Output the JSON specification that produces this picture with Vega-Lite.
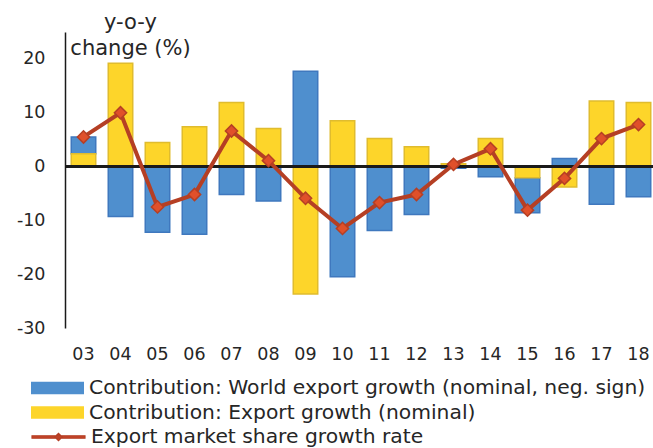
{
  "$schema": "https://vega.github.io/schema/vega-lite/v6.json",
  "width": 592,
  "height": 296,
  "autosize": "none",
  "padding": {"left": 65, "top": 32, "right": 0, "bottom": 120},
  "config": {
    "view": {"stroke": null},
    "font": "DejaVu Sans",
    "locale": {"number": {"decimal": ".", "thousands": ",", "grouping": [3], "currency": ["$", ""], "minus": "-"}},
    "axis": {"labelFont": "DejaVu Sans", "labelColor": "#262626", "titleFont": "DejaVu Sans"},
    "legend": {"labelFont": "DejaVu Sans"}
  },
  "data": {
    "values": [
      {"year": "03", "world": 3.1, "export": 2.4, "share": 5.5},
      {"year": "04", "world": -9.3, "export": 19.2, "share": 10.0},
      {"year": "05", "world": -12.2, "export": 4.45, "share": -7.5},
      {"year": "06", "world": -12.6, "export": 7.4, "share": -5.2},
      {"year": "07", "world": -5.2, "export": 11.9, "share": 6.6},
      {"year": "08", "world": -6.4, "export": 7.05, "share": 1.1},
      {"year": "09", "world": 17.7, "export": -23.7, "share": -5.9},
      {"year": "10", "world": -20.5, "export": 8.5, "share": -11.5},
      {"year": "11", "world": -11.9, "export": 5.2, "share": -6.7},
      {"year": "12", "world": -8.9, "export": 3.7, "share": -5.2},
      {"year": "13", "world": -0.3, "export": 0.5, "share": 0.4},
      {"year": "14", "world": -1.9, "export": 5.2, "share": 3.3},
      {"year": "15", "world": -6.5, "export": -2.1, "share": -8.1},
      {"year": "16", "world": 1.5, "export": -3.8, "share": -2.2},
      {"year": "17", "world": -7.0, "export": 12.2, "share": 5.2},
      {"year": "18", "world": -5.6, "export": 11.9, "share": 7.8}
    ]
  },
  "resolve": {"scale": {"color": "independent"}},
  "layer": [
    {
      "transform": [{"fold": ["world", "export"], "as": ["series", "value"]}],
      "mark": {"type": "bar", "strokeWidth": 1.5, "opacity": 1},
      "encoding": {
        "x": {
          "field": "year", "type": "ordinal", "sort": null,
          "scale": {"paddingInner": 0.338, "paddingOuter": 0.169},
          "axis": {"title": null, "domain": false, "ticks": false, "tickSize": 0, "labelPadding": 17, "labelFontSize": 17.5, "labelAngle": 0}
        },
        "y": {
          "field": "value", "type": "quantitative", "stack": "zero",
          "scale": {"domain": [-30, 25], "nice": false, "zero": false},
          "axis": {
            "values": [-30, -25, -20, -15, -10, -5, 0, 5, 10, 15, 20, 25],
            "labelOverlap": false, "labelBound": false, "labelFlush": false, "labelLineHeight": 18,
            "labelExpr": "datum.value + ''",
            "grid": false, "ticks": true, "tickSize": 0, "tickOpacity": 0, "labelPadding": 20, "labelFontSize": 17.5,
            "domainColor": "#1a1a1a", "domainWidth": 1.5,
            "title": ["y-o-y", "change (%)"], "titleAngle": 0, "titleAlign": "center", "titleBaseline": "alphabetic",
            "titleX": 65, "titleY": -4, "titleFontSize": 21, "titleFontWeight": "normal", "titleColor": "#262626", "titleLineHeight": 26.5
          }
        },
        "color": {
          "field": "series", "type": "nominal",
          "scale": {"domain": ["world", "export"], "range": ["#4F8FCE", "#FDD52A"]},
          "legend": {
            "title": null, "orient": "none", "legendX": -34, "legendY": 344, "padding": 0,
            "clipHeight": 24, "rowPadding": 0.5, "labelOffset": 5, "labelFontSize": 20.3, "labelColor": "#262626", "labelLimit": 0,
            "symbolSize": 2809, "symbolType": "M-1,-0.236H1V0.236H-1Z",
            "symbolStrokeWidth": 0,
            "labelExpr": "datum.value == 'world' ? 'Contribution: World export growth (nominal, neg. sign)' : 'Contribution: Export growth (nominal)'"
          }
        },
        "stroke": {
          "field": "series", "type": "nominal",
          "scale": {"domain": ["world", "export"], "range": ["#3F78BE", "#E0BC2E"]},
          "legend": null
        },
        "order": {"field": "series", "sort": "ascending"}
      }
    },
    {
      "mark": {"type": "rule", "color": "#1a1a1a", "strokeWidth": 2},
      "encoding": {"y": {"datum": 0, "type": "quantitative"}}
    },
    {
      "mark": {"type": "line", "strokeWidth": 4},
      "encoding": {
        "x": {"field": "year", "type": "ordinal", "sort": null},
        "y": {"field": "share", "type": "quantitative"},
        "color": {
          "datum": "share",
          "scale": {"domain": ["share"], "range": ["#B53F24"]},
          "legend": {
            "title": null, "orient": "none", "legendX": -34, "legendY": 393, "padding": 0,
            "clipHeight": 24, "labelOffset": 5, "labelFontSize": 20.3, "labelColor": "#262626", "labelLimit": 0,
            "symbolSize": 2809, "symbolType": "M-1,-0.045H1V0.045H-1Z M-0.14,0L0,-0.14L0.14,0L0,0.14Z",
            "symbolFillColor": "#C8462A", "symbolStrokeColor": "#B53F24", "symbolStrokeWidth": 1.2,
            "labelExpr": "'Export market share growth rate'"
          }
        }
      }
    },
    {
      "mark": {"type": "point", "filled": true, "shape": "diamond", "size": 150, "fill": "#E0502A", "stroke": "#B53F24", "strokeWidth": 1.5, "opacity": 1},
      "encoding": {
        "x": {"field": "year", "type": "ordinal", "sort": null},
        "y": {"field": "share", "type": "quantitative"}
      }
    }
  ]
}
